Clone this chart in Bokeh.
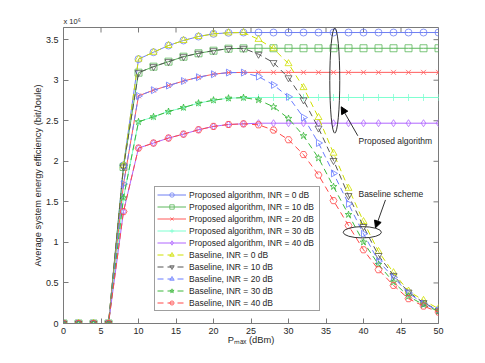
from bokeh.plotting import figure
from bokeh.models import (Range1d, Label, Arrow, NormalHead, Legend, Title,
                          LegendItem, FixedTicker, NumeralTickFormatter)
from bokeh.embed import file_html
from bokeh.resources import INLINE

# ---------------- data (energy efficiency in units of 10^6 bit/Joule) -------------
p_max = [0, 2, 4, 6, 8, 10, 12, 14, 16, 18, 20, 22, 24,
         26, 28, 30, 32, 34, 36, 38, 40, 42, 44, 46, 48, 50]

prop_inr0 = [0, 0, 0, 0, 1.95, 3.26, 3.345, 3.428, 3.49, 3.539, 3.572, 3.585, 3.588,
             3.588, 3.588, 3.588, 3.588, 3.588, 3.588, 3.588, 3.588, 3.588, 3.588, 3.588, 3.588, 3.588]
prop_inr10 = [0, 0, 0, 0, 1.93, 3.093, 3.167, 3.229, 3.29, 3.332, 3.364, 3.389, 3.393,
              3.394, 3.394, 3.394, 3.394, 3.394, 3.394, 3.394, 3.394, 3.394, 3.394, 3.394, 3.394, 3.394]
prop_inr20 = [0, 0, 0, 0, 1.72, 2.807, 2.877, 2.934, 2.99, 3.037, 3.074, 3.094, 3.096,
              3.097, 3.097, 3.097, 3.097, 3.097, 3.097, 3.097, 3.097, 3.097, 3.097, 3.097, 3.097, 3.097]
prop_inr30 = [0, 0, 0, 0, 1.55, 2.487, 2.549, 2.614, 2.663, 2.717, 2.754, 2.778, 2.785,
              2.787, 2.787, 2.787, 2.787, 2.787, 2.787, 2.787, 2.787, 2.787, 2.787, 2.787, 2.787, 2.787]
prop_inr40 = [0, 0, 0, 0, 1.38, 2.163, 2.225, 2.287, 2.335, 2.389, 2.43, 2.454, 2.462,
              2.47, 2.47, 2.47, 2.47, 2.47, 2.47, 2.47, 2.47, 2.47, 2.47, 2.47, 2.47, 2.47]

base_inr0 = [0, 0, 0, 0, 1.95, 3.26, 3.345, 3.428, 3.49, 3.539, 3.572, 3.585, 3.588,
             3.504, 3.389, 3.204, 2.909, 2.54, 2.10, 1.667, 1.257, 0.888, 0.627, 0.40, 0.285, 0.183]
base_inr10 = [0, 0, 0, 0, 1.93, 3.093, 3.167, 3.229, 3.29, 3.332, 3.364, 3.389, 3.393,
              3.32, 3.217, 3.03, 2.757, 2.41, 2.01, 1.577, 1.196, 0.839, 0.593, 0.387, 0.257, 0.162]
base_inr20 = [0, 0, 0, 0, 1.72, 2.807, 2.877, 2.934, 2.99, 3.037, 3.074, 3.094, 3.094,
              3.045, 2.942, 2.795, 2.54, 2.226, 1.851, 1.475, 1.106, 0.769, 0.568, 0.375, 0.245, 0.162]
base_inr30 = [0, 0, 0, 0, 1.55, 2.487, 2.549, 2.614, 2.663, 2.717, 2.754, 2.778, 2.785,
              2.757, 2.672, 2.528, 2.315, 2.04, 1.688, 1.343, 1.003, 0.728, 0.51, 0.335, 0.232, 0.15]
base_inr40 = [0, 0, 0, 0, 1.38, 2.163, 2.225, 2.287, 2.335, 2.389, 2.43, 2.454, 2.462,
              2.45, 2.385, 2.266, 2.083, 1.831, 1.515, 1.208, 0.909, 0.663, 0.47, 0.306, 0.215, 0.141]

labels = ["Proposed algorithm, INR = 0 dB", "Proposed algorithm, INR = 10 dB",
          "Proposed algorithm, INR = 20 dB", "Proposed algorithm, INR = 30 dB",
          "Proposed algorithm, INR = 40 dB",
          "Baseline, INR = 0 dB", "Baseline, INR = 10 dB", "Baseline, INR = 20 dB",
          "Baseline, INR = 30 dB", "Baseline, INR = 40 dB"]
series = [prop_inr0, prop_inr10, prop_inr20, prop_inr30, prop_inr40,
          base_inr0, base_inr10, base_inr20, base_inr30, base_inr40]
colors = ["#6f7ff2", "#5cb85c", "#ff5a5a", "#7fffd0", "#b066ff",
          "#cfe000", "#555555", "#6a7cff", "#3cb83c", "#ff4848"]
markers = ["circle", "square", "x", "cross", "diamond",
           "triangle", "inverted_triangle", "triangle", "star", "hex"]
angles = [0, 0, 0, 0, 0, 0, 0, -1.5708, 0, 0]
dashes = ["solid"] * 5 + ["6 4"] * 5

x_ticks = [0, 5, 10, 15, 20, 25, 30, 35, 40, 45, 50]
y_ticks = [0, 0.5, 1, 1.5, 2, 2.5, 3, 3.5]
X_MIN, X_MAX, Y_MIN, Y_MAX = 0, 50, 0, 3.65

FONT = "Liberation Sans"
AX = "#7a7a7a"
TXT = "#262626"
FRAME_W, FRAME_H = 375, 296
TICK_PX = 5

p = figure(width=477, height=355, output_backend="svg", toolbar_location=None,
           x_range=Range1d(X_MIN, X_MAX), y_range=Range1d(Y_MIN, Y_MAX),
           min_border_left=63, min_border_right=39, min_border_top=27,
           min_border_bottom=32, background_fill_color="white",
           border_fill_color="white")
p.grid.visible = False
p.outline_line_color = AX
p.outline_line_width = 1

for ax in (p.xaxis[0], p.yaxis[0]):
    ax.axis_line_color = AX
    ax.major_tick_line_color = AX
    ax.minor_tick_line_color = None
    ax.major_tick_in = TICK_PX
    ax.major_tick_out = 0
    ax.major_label_text_font = FONT
    ax.major_label_text_font_size = "9px"
    ax.major_label_text_color = TXT
p.xaxis[0].ticker = FixedTicker(ticks=x_ticks)
p.yaxis[0].ticker = FixedTicker(ticks=y_ticks)
p.yaxis[0].formatter = NumeralTickFormatter(format="0.[0]")
p.xaxis[0].major_label_standoff = 4
p.yaxis[0].major_label_standoff = 5
p.xaxis[0].axis_label = "P\u2098\u2090\u2093 (dBm)"
p.xaxis[0].axis_label_standoff = -2
p.yaxis[0].axis_label = "Average system energy efficiency (bit/Joule)"
p.yaxis[0].axis_label_standoff = 0
for ax in (p.xaxis[0], p.yaxis[0]):
    ax.axis_label_text_font = FONT
    ax.axis_label_text_font_size = "9.3px"
    ax.axis_label_text_font_style = "normal"
    ax.axis_label_text_color = TXT

# inward ticks on the top and right edges of the box
dy_tick = TICK_PX * (Y_MAX - Y_MIN) / FRAME_H
dx_tick = TICK_PX * (X_MAX - X_MIN) / FRAME_W
p.segment(x0=x_ticks, y0=[Y_MAX] * len(x_ticks), x1=x_ticks,
          y1=[Y_MAX - dy_tick] * len(x_ticks), line_color=AX, line_width=1)
p.segment(x0=[X_MAX] * len(y_ticks), y0=y_ticks, x1=[X_MAX - dx_tick] * len(y_ticks),
          y1=y_ticks, line_color=AX, line_width=1)

# exponent label above the y axis
p.add_layout(Title(text="x 10\u2076", align="left", text_font=FONT,
                   text_font_size="7.5px", text_font_style="normal",
                   text_color=TXT, standoff=3, offset=0), "above")

items = []
for lab, ys, c, m, a, d in zip(labels, series, colors, markers, angles, dashes):
    lr = p.line(p_max, ys, line_color=c, line_width=1, line_dash=d)
    sr = p.scatter(p_max, ys, marker=m, size=7, angle=a, fill_color=None,
                   line_color=c, line_width=0.8)
    items.append(LegendItem(label=lab, renderers=[lr, sr]))

legend = Legend(items=items, location=(91, 12), label_text_font=FONT,
                label_text_font_size="8.5px", label_text_color=TXT,
                glyph_width=29, glyph_height=11, label_height=11, spacing=1,
                padding=2, margin=0, label_standoff=3, label_width=128,
                border_line_color="#404040", border_line_width=1,
                background_fill_color="white", background_fill_alpha=1)
p.add_layout(legend, "center")

# annotations: ellipses, arrows, texts
ell_prop = dict(x=36.17, y=2.995, w=1.33, h=1.30)
ell_base = dict(x=39.84, y=1.125, w=5.1, h=0.139)
for e in (ell_prop, ell_base):
    p.ellipse(x=[e["x"]], y=[e["y"]], width=e["w"], height=e["h"],
              fill_color=None, line_color="#333333", line_width=1)

p.add_layout(Arrow(end=NormalHead(size=7, fill_color="black", line_color="black"),
                   x_start=39.24, y_start=2.315, x_end=37.03, y_end=2.672,
                   line_color="#333333", line_width=1))
p.add_layout(Arrow(end=NormalHead(size=7, fill_color="black", line_color="black"),
                   x_start=42.93, y_start=1.524, x_end=41.6, y_end=1.18,
                   line_color="#333333", line_width=1))

for x, y, s in [(39.33, 2.253, "Proposed algorithm"), (39.33, 1.598, "Baseline scheme")]:
    p.add_layout(Label(x=x, y=y, text=s, text_font=FONT, text_font_size="8.5px",
                       text_color=TXT, text_baseline="middle", text_align="left"))

open("out.html", "w").write(file_html(p, INLINE))
